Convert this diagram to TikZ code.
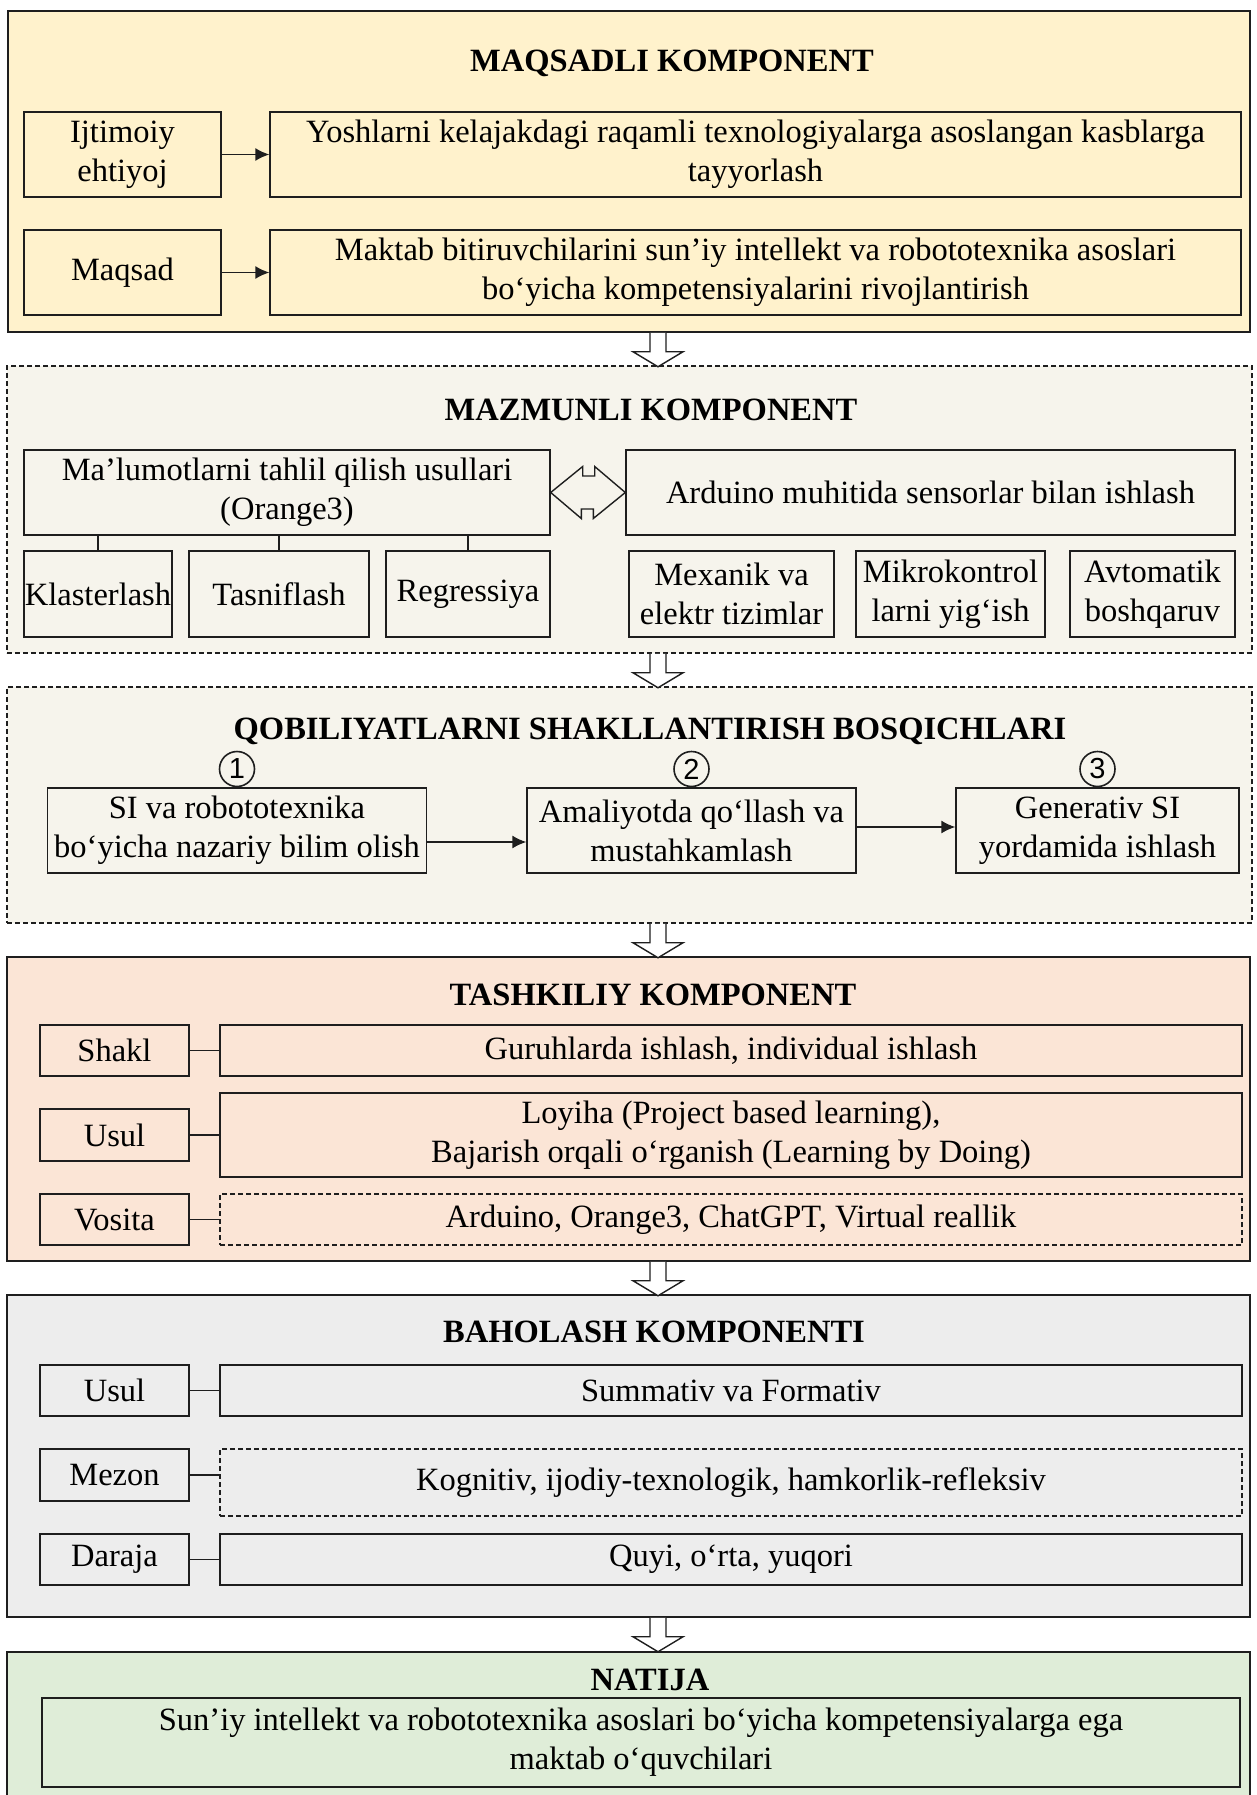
\documentclass[tikz,border=0pt]{standalone}
\usepackage{fontspec}
\setmainfont{Liberation Serif}
\newfontfamily\digitfont{Liberation Sans}
\usetikzlibrary{arrows.meta}
\definecolor{goalfill}{HTML}{FFF2CC}
\definecolor{contentfill}{HTML}{F6F4EC}
\definecolor{orgfill}{HTML}{FBE5D6}
\definecolor{evalfill}{HTML}{EDEDED}
\definecolor{resultfill}{HTML}{DFEDD8}
\definecolor{edge}{HTML}{1E1E1E}
\begin{document}
\begin{tikzpicture}[x=1pt,y=-1pt,
  font=\fontsize{32.5}{39}\selectfont,
  section/.style={draw=edge, line width=1.5pt, inner sep=0pt},
  dashsec/.style={section, dash pattern=on 5pt off 3pt},
  box/.style={draw=edge, line width=1.4pt, inner sep=0pt, align=center},
  dbox/.style={box, dash pattern=on 5pt off 3pt},
  heading/.style={font=\fontsize{32.5}{39}\selectfont\bfseries, inner sep=0pt},
  link/.style={draw=edge, line width=1.4pt},
  flow/.style={link, -{Latex[length=14pt,width=13pt]}},
  hollow/.style={draw=edge, line width=1.4pt, fill=white, line join=miter},
  badge/.style={circle, draw=edge, line width=1.6pt, minimum size=35pt, inner sep=0pt,
                font=\digitfont\fontsize{29}{29}\selectfont},
  downarr/.pic={\path[hollow] (-8,0) -- (-8,19) -- (-25,19) -- (0,34) -- (25,19) -- (8,19) -- (8,0);}
]
\useasboundingbox (0,0) rectangle (1256,1795);
\clip (0,0) rectangle (1256,1795);
\coordinate (axis) at (658,0);

% ---- MAQSADLI KOMPONENT ----
\node[section, fill=goalfill, minimum width=1242pt, minimum height=321pt] (goal) at (629,171.5) {};
\node[heading] (goalT) at (672,63) {MAQSADLI KOMPONENT};
\node[box, fill=goalfill, minimum width=197pt, minimum height=85pt] (needL) at (122.5,154.5) {Ijtimoiy\\ehtiyoj};
\node[box, fill=goalfill, minimum width=971pt, minimum height=85pt] (needR) at (755.5,154.5)
  {Yoshlarni kelajakdagi raqamli texnologiyalarga asoslangan kasblarga\\tayyorlash};
\node[box, fill=goalfill, minimum width=197pt, minimum height=85pt] (aimL) at (122.5,272.5) {Maqsad};
\node[box, fill=goalfill, minimum width=971pt, minimum height=85pt] (aimR) at (755.5,272.5)
  {Maktab bitiruvchilarini sun’iy intellekt va robototexnika asoslari\\bo‘yicha kompetensiyalarini rivojlantirish};
\draw[flow] (needL) -- (needR);
\draw[flow] (aimL) -- (aimR);

% ---- MAZMUNLI KOMPONENT ----
\node[dashsec, fill=contentfill, minimum width=1245pt, minimum height=287pt] (content) at (629.5,509.5) {};
\node[heading] (contentT) at (651,410) {MAZMUNLI KOMPONENT};
\node[box, fill=contentfill, minimum width=526pt, minimum height=85pt] (data) at (287,492.5)
  {Ma’lumotlarni tahlil qilish usullari\\(Orange3)};
\node[box, fill=contentfill, minimum width=609pt, minimum height=85pt] (ardu) at (930.5,492.5)
  {Arduino muhitida sensorlar bilan ishlash};
\path[hollow, fill=contentfill] (data.east) -- ++(32,-26) -- ++(0,9.5) -- ++(12,0) -- ++(0,-9.5)
  -- (ardu.west) -- ++(-32,26) -- ++(0,-9.5) -- ++(-12,0) -- ++(0,9.5) -- cycle;
\node[box, fill=contentfill, minimum width=148pt, minimum height=86pt] (clu) at (98,594) {Klasterlash};
\node[box, fill=contentfill, minimum width=180pt, minimum height=86pt] (cls) at (279,594) {Tasniflash};
\node[box, fill=contentfill, minimum width=164pt, minimum height=86pt] (reg) at (468,594) {Regressiya};
\node[box, fill=contentfill, minimum width=205pt, minimum height=86pt] (mech) at (731.5,594) {Mexanik va\\elektr tizimlar};
\node[box, fill=contentfill, minimum width=189pt, minimum height=86pt] (mcu) at (950.5,594) {Mikrokontrol\\larni yig‘ish};
\node[box, fill=contentfill, minimum width=165pt, minimum height=86pt] (auto) at (1152.5,594) {Avtomatik\\boshqaruv};
\draw[link] (clu.north) -- (clu.north |- data.south);
\draw[link] (cls.north) -- (cls.north |- data.south);
\draw[link] (reg.north) -- (reg.north |- data.south);

% ---- QOBILIYATLARNI SHAKLLANTIRISH BOSQICHLARI ----
\node[dashsec, fill=contentfill, minimum width=1245pt, minimum height=236pt] (stages) at (629.5,805) {};
\node[heading] (stagesT) at (650,731) {QOBILIYATLARNI SHAKLLANTIRISH BOSQICHLARI};
\node[box, fill=contentfill, minimum width=379pt, minimum height=85pt] (theory) at (237,830.5)
  {SI va robototexnika\\bo‘yicha nazariy bilim olish};
\node[box, fill=contentfill, minimum width=329pt, minimum height=85pt] (practice) at (691.5,830.5)
  {Amaliyotda qo‘llash va\\mustahkamlash};
\node[box, fill=contentfill, minimum width=283pt, minimum height=85pt] (genai) at (1097.5,830.5)
  {Generativ SI\\yordamida ishlash};
\node[badge, anchor=south] (num1) at (theory.north) {1};
\node[badge, anchor=south] (num2) at (practice.north) {2};
\node[badge, anchor=south] (num3) at (genai.north) {3};
\draw[flow] ([yshift=-11.5pt]theory.east) -- ([yshift=-11.5pt]practice.west);
\draw[flow] ([yshift=3.5pt]practice.east) -- ([yshift=3.5pt]genai.west);

% ---- TASHKILIY KOMPONENT ----
\node[section, fill=orgfill, minimum width=1243pt, minimum height=304pt] (org) at (628.5,1109) {};
\node[heading] (orgT) at (653,995) {TASHKILIY KOMPONENT};
\node[box, fill=orgfill, minimum width=149pt, minimum height=51pt] (formL) at (114.5,1050.5) {Shakl};
\node[box, fill=orgfill, minimum width=1022pt, minimum height=51pt] (formR) at (731,1050.5)
  {Guruhlarda ishlash, individual ishlash};
\node[box, fill=orgfill, minimum width=149pt, minimum height=52pt] (methL) at (114.5,1135) {Usul};
\node[box, fill=orgfill, minimum width=1022pt, minimum height=84pt] (methR) at (731,1135)
  {Loyiha (Project based learning),\\Bajarish orqali o‘rganish (Learning by Doing)};
\node[box, fill=orgfill, minimum width=149pt, minimum height=51pt] (toolL) at (114.5,1219.5) {Vosita};
\node[dbox, fill=orgfill, minimum width=1022pt, minimum height=51pt] (toolR) at (731,1219.5)
  {Arduino, Orange3, ChatGPT, Virtual reallik};
\draw[link] (formL) -- (formR);
\draw[link] (methL) -- (methR);
\draw[link] (toolL) -- (toolR);

% ---- BAHOLASH KOMPONENTI ----
\node[section, fill=evalfill, minimum width=1243pt, minimum height=322pt] (eval) at (628.5,1456) {};
\node[heading] (evalT) at (654,1332) {BAHOLASH KOMPONENTI};
\node[box, fill=evalfill, minimum width=149pt, minimum height=51pt] (ev1L) at (114.5,1390.5) {Usul};
\node[box, fill=evalfill, minimum width=1022pt, minimum height=51pt] (ev1R) at (731,1390.5)
  {Summativ va Formativ};
\node[box, fill=evalfill, minimum width=149pt, minimum height=52pt] (ev2L) at (114.5,1475) {Mezon};
\node[dbox, fill=evalfill, minimum width=1022pt, minimum height=67pt] (ev2R) at (731,1482.5)
  {Kognitiv, ijodiy-texnologik, hamkorlik-refleksiv};
\node[box, fill=evalfill, minimum width=149pt, minimum height=51pt] (ev3L) at (114.5,1559.5) {Daraja};
\node[box, fill=evalfill, minimum width=1022pt, minimum height=51pt] (ev3R) at (731,1559.5)
  {Quyi, o‘rta, yuqori};
\draw[link] (ev1L) -- (ev1R);
\draw[link] (ev2L.east) -- (ev2L.east -| ev2R.west);
\draw[link] (ev3L) -- (ev3R);

% ---- NATIJA ----
\node[section, fill=resultfill, minimum width=1243pt, minimum height=170pt, anchor=north] (result) at (628.5,1651) {};
\node[heading] (resultT) at (650,1680) {NATIJA};
\node[box, fill=resultfill, minimum width=1198pt, minimum height=89pt] (outcome) at (641,1742.5)
  {Sun’iy intellekt va robototexnika asoslari bo‘yicha kompetensiyalarga ega\\maktab o‘quvchilari};

% ---- transitions between components ----
\pic at (goal.south -| axis) {downarr};
\pic at (content.south -| axis) {downarr};
\pic at (stages.south -| axis) {downarr};
\pic at (org.south -| axis) {downarr};
\pic at (eval.south -| axis) {downarr};
\end{tikzpicture}
\end{document}
